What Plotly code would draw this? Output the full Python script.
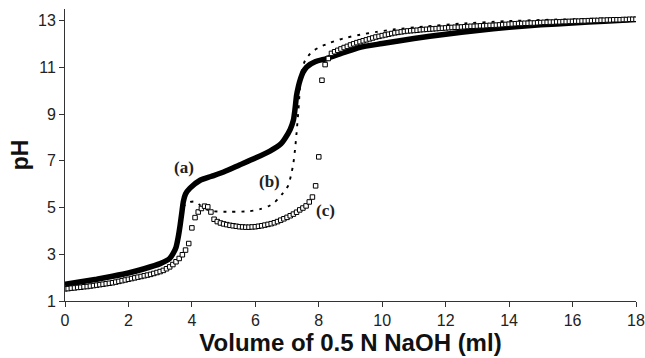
import plotly.graph_objects as go

# Curve (a): thick solid line
a_x = [0, 0.5, 1.0, 1.5, 2.0, 2.5, 3.0, 3.3, 3.41, 3.5, 3.57, 3.63, 3.68, 3.73, 3.8, 3.94,
       4.26, 4.6, 5.0, 5.5, 6.0, 6.46, 6.8, 6.94, 7.1, 7.2, 7.25, 7.3, 7.36, 7.41, 7.5,
       7.62, 7.9, 8.25, 8.8, 9.3, 10, 11, 12, 13, 14, 15, 16, 17, 18]
a_y = [1.72, 1.82, 1.93, 2.06, 2.2, 2.38, 2.6, 2.82, 3.04, 3.3, 3.74, 4.25, 4.75, 5.25, 5.58, 5.83,
       6.17, 6.33, 6.52, 6.82, 7.12, 7.42, 7.72, 7.97, 8.35, 8.74, 9.2, 9.8, 10.2, 10.45, 10.78,
       11.02, 11.25, 11.38, 11.64, 11.86, 12.02, 12.24, 12.42, 12.58, 12.72, 12.82, 12.9, 12.98, 13.05]

# Curve (b): dotted line
b_x = [0, 1, 2, 3, 3.4, 3.55, 3.65, 3.72, 3.8, 3.94, 4.1, 4.26, 4.45, 4.7, 5.2, 5.8, 6.15,
       6.4, 6.57, 6.7, 6.83, 6.95, 7.04, 7.12, 7.2, 7.26, 7.3, 7.36, 7.41, 7.46, 7.57, 7.78,
       8.04, 8.35, 8.77, 9.3, 9.83, 10.35, 11.4, 12.45, 13.9, 15, 16.5, 18]
b_y = [1.7, 1.92, 2.18, 2.58, 3.0, 3.6, 4.4, 4.95, 5.15, 5.24, 5.26, 5.1, 4.92, 4.84, 4.82, 4.84, 4.93,
       5.05, 5.17, 5.35, 5.55, 5.75, 5.95, 6.35, 6.9, 7.6, 8.2, 9.2, 10.2, 10.85, 11.3, 11.66,
       11.88, 12.05, 12.24, 12.4, 12.52, 12.62, 12.76, 12.87, 12.98, 13.03, 13.08, 13.12]

# Curve (c): open squares every 0.1 ml
c_x = [round(i * 0.1, 1) for i in range(181)]
c_y = [
    1.52, 1.53, 1.55, 1.56, 1.58, 1.59, 1.61, 1.62, 1.64, 1.66,   # 0.0-0.9
    1.68, 1.70, 1.72, 1.74, 1.76, 1.78, 1.81, 1.84, 1.87, 1.90,   # 1.0-1.9
    1.93, 1.96, 1.99, 2.02, 2.05, 2.08, 2.11, 2.14, 2.18, 2.22,   # 2.0-2.9
    2.26, 2.31, 2.38, 2.46, 2.56, 2.68, 2.82, 2.98, 3.18, 3.46,   # 3.0-3.9
    4.13, 4.57, 4.81, 4.96, 5.06, 5.03, 4.81, 4.50, 4.40, 4.34,   # 4.0-4.9
    4.30, 4.27, 4.24, 4.22, 4.20, 4.18, 4.17, 4.16, 4.16, 4.17,   # 5.0-5.9
    4.18, 4.20, 4.22, 4.25, 4.28, 4.31, 4.35, 4.40, 4.46, 4.52,   # 6.0-6.9
    4.58, 4.65, 4.72, 4.80, 4.90, 4.98, 5.07, 5.24, 5.45, 5.93,   # 7.0-7.9
    7.17, 10.45, 11.12, 11.38, 11.60, 11.67, 11.73, 11.79, 11.85, 11.90,  # 8.0-8.9
    11.96, 12.01, 12.06, 12.10, 12.14, 12.18, 12.22, 12.26, 12.30, 12.33,  # 9.0-9.9
    12.36, 12.39, 12.42, 12.45, 12.48, 12.50, 12.52, 12.54, 12.56, 12.57,  # 10.0-10.9
    12.58, 12.59, 12.61, 12.62, 12.63, 12.64, 12.65, 12.66, 12.67, 12.68,  # 11.0-11.9
    12.69, 12.70, 12.71, 12.72, 12.72, 12.73, 12.74, 12.75, 12.76, 12.76,  # 12.0-12.9
    12.77, 12.78, 12.78, 12.79, 12.80, 12.80, 12.81, 12.82, 12.83, 12.84,  # 13.0-13.9
    12.85, 12.86, 12.87, 12.88, 12.88, 12.89, 12.89, 12.90, 12.90, 12.91,  # 14.0-14.9
    12.92, 12.93, 12.93, 12.94, 12.94, 12.95, 12.95, 12.96, 12.96, 12.97,  # 15.0-15.9
    12.97, 12.98, 12.98, 12.99, 12.99, 13.00, 13.00, 13.01, 13.01, 13.02,  # 16.0-16.9
    13.02, 13.03, 13.03, 13.04, 13.04, 13.04, 13.05, 13.05, 13.06, 13.06,  # 17.0-17.9
    13.06,                                                                  # 18.0
]

x_ticks = [0, 2, 4, 6, 8, 10, 12, 14, 16, 18]
y_ticks = [1, 3, 5, 7, 9, 11, 13]

labels = ["(a)", "(b)", "(c)"]
label_x = [3.75, 6.46, 8.2]
label_y = [6.73, 6.13, 4.88]

fig = go.Figure()
fig.add_trace(go.Scatter(x=a_x, y=a_y, mode="lines",
                         line=dict(color="black", width=5.5, shape="spline", smoothing=0.6),
                         showlegend=False, hoverinfo="skip"))
fig.add_trace(go.Scatter(x=b_x, y=b_y, mode="lines",
                         line=dict(color="black", width=1.9, dash="3px,6px", shape="spline", smoothing=0.6),
                         showlegend=False, hoverinfo="skip"))
fig.add_trace(go.Scatter(x=c_x, y=c_y, mode="markers",
                         marker=dict(symbol="square", size=4.5, color="white",
                                     line=dict(color="black", width=1)),
                         showlegend=False, hoverinfo="skip"))

for t, lx, ly in zip(labels, label_x, label_y):
    fig.add_annotation(x=lx, y=ly, text="<b>" + t + "</b>", showarrow=False,
                       font=dict(family="Liberation Serif", size=17, color="#222"))

axis_font = dict(family="Liberation Sans", size=16, color="#222")
fig.update_layout(
    width=645, height=358,
    margin=dict(l=65, r=9, t=9, b=57),
    paper_bgcolor="white", plot_bgcolor="white",
    xaxis=dict(range=[0, 18], tickvals=x_ticks, ticktext=[str(v) for v in x_ticks],
               automargin=False,
               showgrid=False, zeroline=False, showline=True, linecolor="#333", linewidth=1,
               ticks="outside", ticklen=5, tickcolor="#333", tickfont=axis_font,
               ticklabeloverflow="allow",
               title=dict(text="<b>Volume of 0.5 N NaOH (ml)</b>", standoff=0,
                          font=dict(family="Liberation Sans", size=24, color="#111"))),
    yaxis=dict(range=[1, 13.5], tickvals=y_ticks, ticktext=[str(v) for v in y_ticks],
               automargin=False,
               showgrid=False, zeroline=False, showline=True, linecolor="#333", linewidth=1,
               ticks="outside", ticklen=5, tickcolor="#333", tickfont=axis_font,
               title=dict(text="<b>pH</b>", standoff=2,
                          font=dict(family="Liberation Sans", size=23, color="#111"))),
)

fig.write_html("out.html", config={"displayModeBar": False},
               post_script="document.body.style.margin='0';document.body.style.overflow='hidden';")
